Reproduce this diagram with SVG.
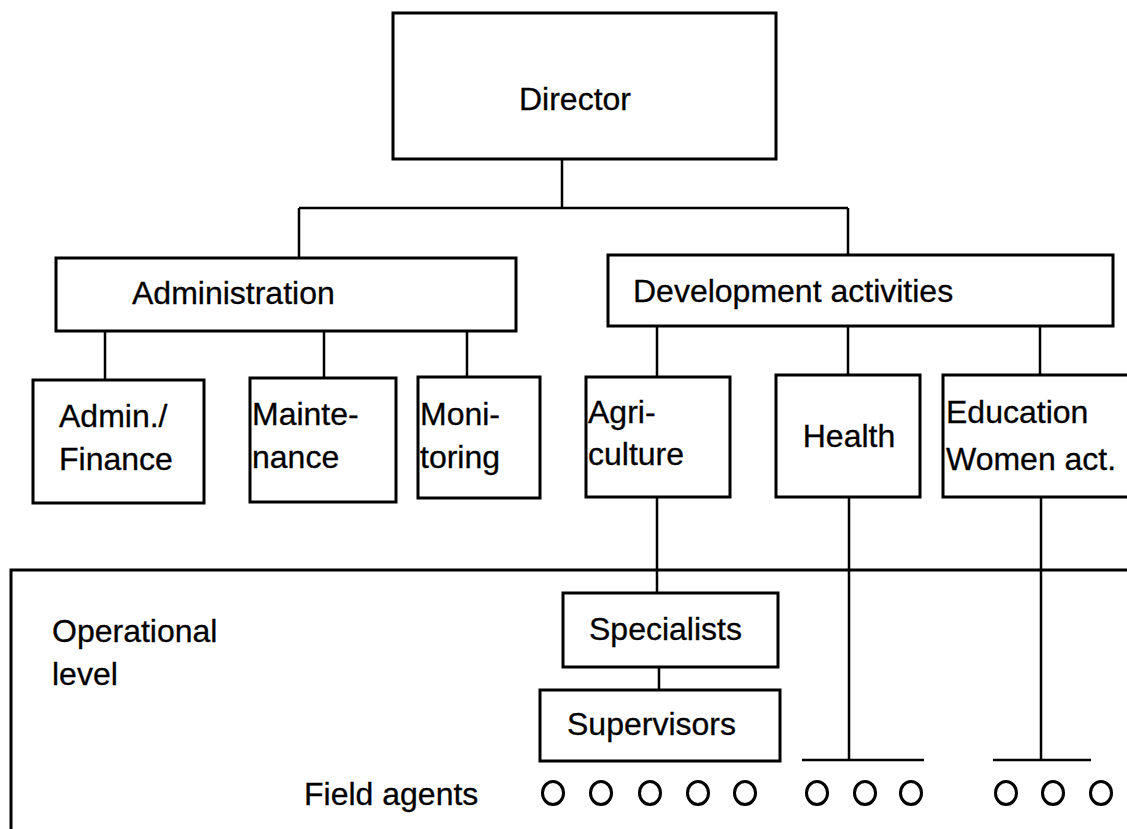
<svg xmlns="http://www.w3.org/2000/svg" width="1127" height="829" viewBox="0 0 1127 829">
<style>
.box{fill:#fff;stroke:#000;stroke-width:3}
.ln{fill:none;stroke:#000;stroke-width:2.5}
.t{font-family:"Liberation Sans",Arial,sans-serif;font-size:32px;fill:#000;stroke:#000;stroke-width:0.3}
.fa{fill:none;stroke:#000;stroke-width:3}
</style>
<rect width="1127" height="829" fill="#fff"/>
<g id="connectors">
<path class="ln" d="M562 159V208M299 208H848M299 208V258M848 208V255"/>
<path class="ln" d="M105 331V380M324 331V378M467 331V377"/>
<path class="ln" d="M657 326V377M848 326V375M1040 326V375"/>
<path class="ln" d="M657 497V593M659 667V690M849 497V760M1041 497V760"/>
<path class="ln" d="M802 760H924M993 760H1091"/>
</g>
<g id="operational-level">
<path class="ln" d="M1130 570H11V832" style="stroke-width:3"/>
<text class="t" x="52" y="642">Operational</text>
<text class="t" x="52" y="685">level</text>
</g>
<g id="director"><rect class="box" x="393" y="13" width="383" height="146"/><text class="t" x="575" y="110" text-anchor="middle">Director</text></g>
<g id="administration"><rect class="box" x="56" y="258" width="460" height="73"/><text class="t" x="132" y="304">Administration</text></g>
<g id="development"><rect class="box" x="608" y="255" width="505" height="71"/><text class="t" x="633" y="302">Development activities</text></g>
<g id="admin-finance"><rect class="box" x="33" y="380" width="171" height="123"/><text class="t" x="59" y="427">Admin./</text><text class="t" x="59" y="470">Finance</text></g>
<g id="maintenance"><rect class="box" x="250" y="378" width="146" height="124"/><text class="t" x="252" y="425">Mainte-</text><text class="t" x="252" y="468">nance</text></g>
<g id="monitoring"><rect class="box" x="418" y="377" width="122" height="121"/><text class="t" x="420" y="425">Moni-</text><text class="t" x="420" y="468">toring</text></g>
<g id="agriculture"><rect class="box" x="586" y="377" width="144" height="120"/><text class="t" x="588" y="423">Agri-</text><text class="t" x="588" y="465">culture</text></g>
<g id="health"><rect class="box" x="776" y="375" width="144" height="122"/><text class="t" x="849" y="447" text-anchor="middle">Health</text></g>
<g id="education"><rect class="box" x="943" y="375" width="200" height="122"/><text class="t" x="946" y="423">Education</text><text class="t" x="946" y="470">Women act.</text></g>
<g id="specialists"><rect class="box" x="563" y="593" width="215" height="74"/><text class="t" x="589" y="640">Specialists</text></g>
<g id="supervisors"><rect class="box" x="540" y="690" width="240" height="71"/><text class="t" x="567" y="735">Supervisors</text></g>
<g id="field-agents">
<text class="t" x="304" y="805">Field agents</text>
<ellipse class="fa" cx="553" cy="793" rx="10.5" ry="11.5"/>
<ellipse class="fa" cx="601" cy="793" rx="10.5" ry="11.5"/>
<ellipse class="fa" cx="650" cy="793" rx="10.5" ry="11.5"/>
<ellipse class="fa" cx="698" cy="793" rx="10.5" ry="11.5"/>
<ellipse class="fa" cx="745" cy="793" rx="10.5" ry="11.5"/>
<ellipse class="fa" cx="817" cy="793" rx="10.5" ry="11.5"/>
<ellipse class="fa" cx="865" cy="793" rx="10.5" ry="11.5"/>
<ellipse class="fa" cx="911" cy="793" rx="10.5" ry="11.5"/>
<ellipse class="fa" cx="1006" cy="793" rx="10.5" ry="11.5"/>
<ellipse class="fa" cx="1053" cy="793" rx="10.5" ry="11.5"/>
<ellipse class="fa" cx="1101" cy="793" rx="10.5" ry="11.5"/>
</g>
</svg>
